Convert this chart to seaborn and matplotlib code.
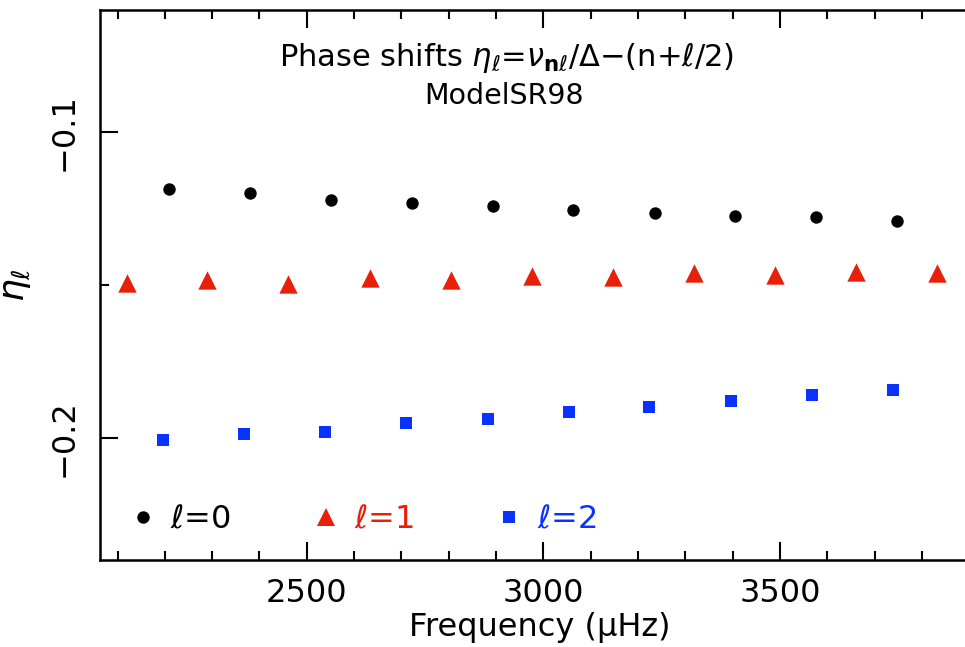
import numpy as np
import pandas as pd
import matplotlib
matplotlib.use("Agg")
import matplotlib.pyplot as plt
from matplotlib.ticker import MultipleLocator
from matplotlib.lines import Line2D
import seaborn as sns

# ---- data ----
freq_l0 = [2208, 2381, 2552, 2722, 2893, 3063, 3236, 3405, 3577, 3748]
eta_l0 = [-0.1186, -0.1198, -0.1221, -0.1230, -0.1243, -0.1254, -0.1263, -0.1274, -0.1278, -0.1289]

freq_l1 = [2119, 2290, 2461, 2634, 2804, 2975, 3147, 3318, 3489, 3660, 3832]
eta_l1 = [-0.1494, -0.1484, -0.1496, -0.1477, -0.1485, -0.1469, -0.1475, -0.1460, -0.1467, -0.1456, -0.1462]

freq_l2 = [2197, 2367, 2538, 2710, 2882, 3053, 3224, 3396, 3567, 3739]
eta_l2 = [-0.2007, -0.1986, -0.1980, -0.1953, -0.1939, -0.1916, -0.1898, -0.1879, -0.1859, -0.1845]

series_labels = [r"$\ell$=0", r"$\ell$=1", r"$\ell$=2"]
x_ticks = [2500, 3000, 3500]
y_ticks = [-0.1, -0.2]

colors = ["#000000", "#E8200A", "#0A32FF"]
markers = ["o", "^", "s"]
sizes = [80, 175, 75]

df = pd.concat([
    pd.DataFrame({"freq": freq_l0, "eta": eta_l0, "l": series_labels[0]}),
    pd.DataFrame({"freq": freq_l1, "eta": eta_l1, "l": series_labels[1]}),
    pd.DataFrame({"freq": freq_l2, "eta": eta_l2, "l": series_labels[2]}),
])

sns.set_style("ticks")
plt.rcParams["font.family"] = ["DejaVu Sans"]
plt.rcParams["mathtext.fontset"] = "dejavusans"
for k in ["text.color", "axes.labelcolor", "xtick.color", "ytick.color", "axes.edgecolor"]:
    plt.rcParams[k] = "black"

fig = plt.figure(figsize=(9.65, 6.47), dpi=100)
ax = fig.add_axes([100 / 965, 87 / 647, 893 / 965, 550 / 647])

for lab, c, m, s in zip(series_labels, colors, markers, sizes):
    sub = df[df["l"] == lab]
    sns.scatterplot(data=sub, x="freq", y="eta", color=c, marker=m, s=s,
                    linewidth=0, ax=ax, legend=False)

ax.set_xlim(2063, 3950)
ax.set_ylim(-0.24, -0.060)

ax.set_xticks(x_ticks)
ax.set_xticklabels([str(t) for t in x_ticks])
ax.xaxis.set_minor_locator(MultipleLocator(100))
ax.set_yticks(y_ticks)
ax.set_yticklabels(["\u22120.1", "\u22120.2"])
ax.yaxis.set_minor_locator(MultipleLocator(0.05))

for sp in ax.spines.values():
    sp.set_linewidth(1.8)
    sp.set_color("black")
ax.spines["right"].set_visible(False)

ax.tick_params(which="both", direction="in", top=True, right=False, width=1.5,
               labelsize=23, color="black", labelcolor="black")
ax.tick_params(which="major", length=13)
ax.tick_params(which="minor", length=6.5)
ax.tick_params(axis="x", which="major", pad=13)
ax.tick_params(axis="y", which="major", pad=15, labelrotation=90)
for t in ax.get_yticklabels():
    t.set_va("center")

ax.set_xlabel("Frequency (\u03bcHz)", fontsize=23, color="black")
ax.xaxis.set_label_coords(0.4927, -0.094)
ax.set_ylabel(r"$\eta_\ell$", fontsize=26, color="black")
ax.yaxis.set_label_coords(-0.075, 0.5)

fig.text(0.525, 0.898, r"Phase shifts $\eta_\ell$=$\nu_{\mathbf{n}\ell}$/$\Delta$$-$(n+$\ell$/2)",
         ha="center", va="baseline", fontsize=22, color="black")
fig.text(0.522, 0.839, "ModelSR98", ha="center", va="baseline", fontsize=20.5, color="black")

handles = [Line2D([], [], ls="", marker=m, color=c, markersize=np.sqrt(s), markeredgewidth=0)
           for m, c, s in zip(markers, colors, sizes)]
leg = ax.legend(handles, series_labels, loc="center left", bbox_to_anchor=(0.03, 0.073),
                ncol=3, frameon=False, fontsize=23, handlelength=1.0, handletextpad=0.35,
                columnspacing=2.5, borderpad=0, borderaxespad=0)
for txt, c in zip(leg.get_texts(), colors):
    txt.set_color(c)

fig.savefig("out.png", dpi=100)
